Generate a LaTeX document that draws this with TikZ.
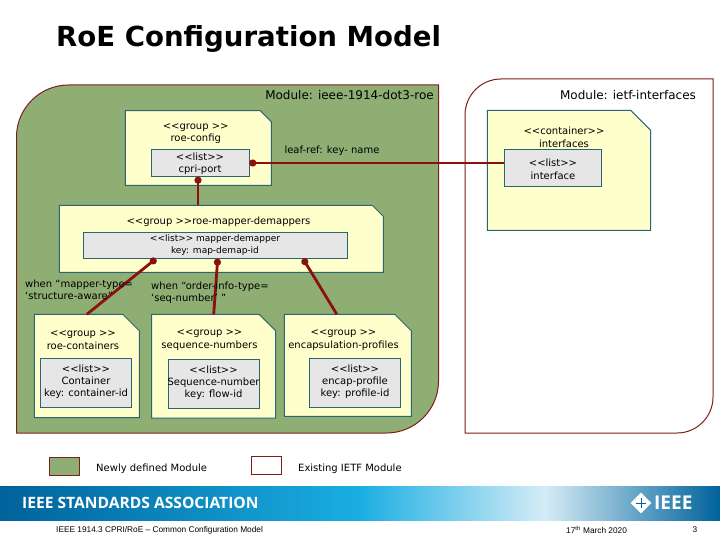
\documentclass[tikz,border=0pt]{standalone}
\usepackage{fontspec}
\setmainfont{DejaVu Sans}
\newfontfamily\footfont{Liberation Sans}
\newfontfamily\bannerfont{Open Sans}
\usetikzlibrary{arrows.meta,shapes.geometric}
\definecolor{modgreen}{HTML}{8FAE73}
\definecolor{modred}{HTML}{7F1D1D}
\definecolor{linkred}{HTML}{8C1010}
\definecolor{noteyellow}{HTML}{FFFFCC}
\definecolor{listgrey}{HTML}{E6E6E6}
\definecolor{edgeteal}{HTML}{2B6670}
\definecolor{bannerdark}{HTML}{00629B}
\definecolor{bannermid}{HTML}{1AAEE2}
\definecolor{bannerpale}{HTML}{D5ECF6}
\pgfkeys{/pgf/note cut/.initial=11pt}
\makeatletter
\pgfdeclareshape{notebox}{
  \inheritsavedanchors[from=rectangle]
  \inheritanchorborder[from=rectangle]
  \inheritanchor[from=rectangle]{center}
  \inheritanchor[from=rectangle]{north}
  \inheritanchor[from=rectangle]{south}
  \inheritanchor[from=rectangle]{east}
  \inheritanchor[from=rectangle]{west}
  \backgroundpath{
    \southwest \pgf@xa=\pgf@x \pgf@ya=\pgf@y
    \northeast \pgf@xb=\pgf@x \pgf@yb=\pgf@y
    \pgfmathsetlength\pgf@xc{\pgfkeysvalueof{/pgf/note cut}}
    \pgfpathmoveto{\pgfqpoint{\pgf@xa}{\pgf@ya}}
    \pgfpathlineto{\pgfqpoint{\pgf@xa}{\pgf@yb}}
    \pgfpathlineto{\pgfqpoint{\dimexpr\pgf@xb-\pgf@xc\relax}{\pgf@yb}}
    \pgfpathlineto{\pgfqpoint{\pgf@xb}{\dimexpr\pgf@yb-\pgf@xc\relax}}
    \pgfpathlineto{\pgfqpoint{\pgf@xb}{\pgf@ya}}
    \pgfpathclose
  }
}
\makeatother
\begin{document}
\begin{tikzpicture}[x=1pt,y=-1pt,
        module/.style={draw=modred, line width=1pt},
        note/.style={notebox, note cut=11pt, draw=edgeteal, fill=noteyellow, line width=1pt, inner sep=0pt, outer sep=0pt},
        bignote/.style={note, note cut=16.5pt},
        listbox/.style={rectangle, draw=edgeteal, fill=listgrey, line width=1pt, inner sep=0pt, outer sep=0pt},
        link/.style={{Circle[length=7pt,width=7pt]}-, draw=linkred, line width=2.8pt},
        txt/.style={inner sep=0pt, align=center, font=\fontsize{10}{12.3}\selectfont},
        modtxt/.style={inner sep=0pt, font=\fontsize{12}{14}\selectfont},
        legend/.style={rectangle, draw=modred, line width=1pt, inner sep=0pt, minimum width=30pt, minimum height=18pt},
        foot/.style={inner sep=0pt, font=\footfont\fontsize{8.3}{10}\selectfont}
        ]
     \useasboundingbox (0,0) rectangle (720,540);
     \fill[white] (0,0) rectangle (720,540);
     \node[inner sep=0pt, anchor=west, font=\bfseries\fontsize{27.6}{32}\selectfont] (title) at (56,38.5) {RoE Configuration Model};

     \draw[module, fill=modgreen, rounded corners=52pt] (16.5,433) -- (16.5,85) [sharp corners] -- (438.5,85) -- (438.5,300) [rounded corners=52pt] -- (438.5,433) [sharp corners] -- cycle;
     \draw[module, fill=white, rounded corners=36pt] (465,433) -- (465,79) [sharp corners] -- (713,79) -- (713,300) [rounded corners=36pt] -- (713,433) [sharp corners] -- cycle;

     \node[note, minimum width=146pt, minimum height=74.6pt] (cfgnote) at (198.3,148) {};
     \node[listbox, minimum width=98pt, minimum height=27.4pt] (cprilist) at (200.3,163) {};
     \node[note, minimum width=324pt, minimum height=67pt] (mapnote) at (221.3,238.8) {};
     \node[listbox, minimum width=264.4pt, minimum height=26.4pt] (maplist) at (215.5,245.5) {};
     \node[bignote, minimum width=105pt, minimum height=103.4pt] (contnote) at (86.8,366) {};
     \node[listbox, minimum width=91.4pt, minimum height=48.7pt] (contlist) at (86,383.3) {};
     \node[bignote, minimum width=124pt, minimum height=103.7pt] (seqnote) at (213.7,366.2) {};
     \node[listbox, minimum width=91.4pt, minimum height=48.7pt] (seqlist) at (214,384.3) {};
     \node[bignote, minimum width=127pt, minimum height=102pt] (encnote) at (347.8,365.3) {};
     \node[listbox, minimum width=91.4pt, minimum height=48.7pt] (enclist) at (355,383.3) {};
     \node[note, note cut=20pt, minimum width=163.4pt, minimum height=120pt] (ifnote) at (569,170.3) {};
     \node[listbox, minimum width=97.4pt, minimum height=37.2pt] (iflist) at (553,167.9) {};

     \draw[link] (cprilist.east) -- (cprilist.east -| iflist.west);
     \draw[link] ([xshift=-2.3pt]cprilist.south) -- ([xshift=-2.3pt]cprilist.south |- mapnote.north);
     \draw[link] ([xshift=-59.5pt]maplist.south) -- (contnote.north);
     \draw[link] ([xshift=2.2pt]maplist.south) -- (seqnote.north);
     \draw[link] ([xshift=87.5pt]maplist.south) -- ([xshift=-11pt]encnote.north);

     \node[modtxt] (ieeemod) at (349.5,95.5) {Module: ieee-1914-dot3-roe};
     \node[modtxt] (ietfmod) at (628,95.5) {Module: ietf-interfaces};
     \node[txt] (cfgtxt) at (195.7,133.3) {<{}<group >{}>\\roe-config};
     \node[txt] (cpritxt) at (200,164) {<{}<list>{}>\\cpri-port};
     \node[txt] (leaftxt) at (332,150.5) {leaf-ref: key- name};
     \node[txt] (maptxt) at (218.5,221.5) {<{}<group >{}>roe-mapper-demappers};
     \node[txt, font=\fontsize{9}{11.3}\selectfont] (maplisttxt) at (215,245) {<{}<list>{}> mapper-demapper\\key: map-demap-id};
     \node[txt, anchor=west, align=left] (whenmap) at (25,289.8) {when “mapper-type=\\‘structure-aware”};
     \node[txt, anchor=west, align=left] (whenord) at (151,292.8) {when “order-info-type=\\‘seq-number’ ”};
     \node[txt] (conttxt) at (83,340.2) {<{}<group >{}>\\roe-containers};
     \node[txt] (contlisttxt) at (86,381.8) {<{}<list>{}>\\Container\\key: container-id};
     \node[txt] (seqtxt) at (209.5,340.2) {<{}<group >{}>\\sequence-numbers};
     \node[txt] (seqlisttxt) at (213.6,382.8) {<{}<list>{}>\\Sequence-number\\key: flow-id};
     \node[txt] (enctxt) at (343.5,340.2) {<{}<group >{}>\\encapsulation-profiles};
     \node[txt] (enclisttxt) at (355,381.8) {<{}<list>{}>\\encap-profile\\key: profile-id};
     \node[txt] (iftxt) at (564,137.2) {<{}<container>{}>\\interfaces};
     \node[txt] (iflisttxt) at (553,169.2) {<{}<list>{}>\\interface};

     \node[legend, fill=modgreen] (newbox) at (64.5,466.3) {};
     \node[legend, fill=white] (oldbox) at (266.3,465.2) {};
     \node[txt, anchor=west] (newtxt) at (96,468.5) {Newly defined Module};
     \node[txt, anchor=west] (oldtxt) at (298,468.5) {Existing IETF Module};

     \shade[left color=bannerdark, right color=bannermid] (0,486) rectangle (360,520);
     \shade[left color=bannermid, right color=bannerpale] (359.5,486) rectangle (545,520);
     \shade[left color=bannerpale, right color=bannerdark] (544.5,486) rectangle (720,520);
     \node[inner sep=0pt, anchor=west, text=white, font=\bannerfont\bfseries\fontsize{15.6}{18}\selectfont] (sa) at (22,503) {IEEE STANDARDS ASSOCIATION};
     \node[diamond, fill=white, inner sep=0pt, minimum width=21pt, minimum height=21pt] (logo) at (641,503) {};
     \draw[bannerdark, line width=0.7pt] (logo.center) +(-5,0) -- +(5,0) +(0,-5) -- +(0,5);
     \node[inner sep=0pt, anchor=west, text=white, font=\bannerfont\bfseries\fontsize{19}{22}\selectfont] (ieee) at (654,503) {IEEE};

     \node[foot, anchor=west] (foottxt) at (56,530) {IEEE 1914.3 CPRI/RoE – Common Configuration Model};
     \node[foot, anchor=west] (footdate) at (566,530) {17\textsuperscript{th} March 2020};
     \node[foot] (footpage) at (695,530) {3};
\end{tikzpicture}
\end{document}
